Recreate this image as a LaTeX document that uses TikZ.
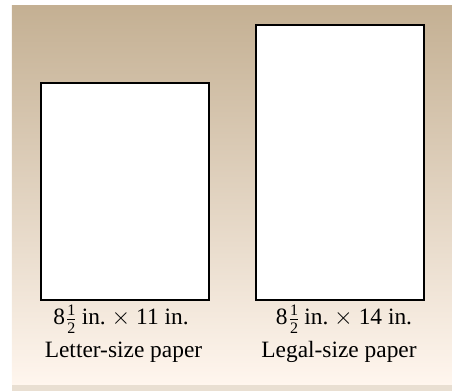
\documentclass[tikz,border=0pt]{standalone}
\usepackage{fontspec}
\setmainfont{Liberation Serif}
\usepackage{tikz}
\usetikzlibrary{positioning}
\definecolor{bgTop}{HTML}{C4B093}
\definecolor{bgBot}{HTML}{FFF6EE}
\definecolor{bgBand}{HTML}{E9DFD2}
\newcommand{\halfin}{8$\frac{\mbox{\fontsize{8}{8}\selectfont 1}}{\mbox{\fontsize{8}{8}\selectfont 2}}$\,in.}
\tikzset{
  % A sheet of paper, drawn to scale.
  sheet/.style={
    draw=black, fill=white, line width=0.9pt, inner sep=0pt,
    minimum width=84pt
  },
  % Size and name below each sheet.
  caption/.style={
    font=\fontsize{11.7}{13}\selectfont, text=black, inner sep=0pt, anchor=base
  },
}
\begin{document}
\begin{tikzpicture}[x=0.5pt,y=-0.5pt]
  \useasboundingbox (0,0) rectangle (452,391);
  \fill[top color=bgTop, bottom color=bgBot] (12,6) rectangle (452,385);
  \fill[bgBand] (12,385) rectangle (452,391);

  \node[sheet, minimum height=108.5pt] (letter) at (125,191.5) {};
  \node[sheet, minimum height=137.5pt] (legal)  at (340,162.4) {};

  \node[caption] (letterSize) at (121,325) {\halfin\ $\times$ 11 in.};
  \node[caption] (letterName) at (123.5,358) {Letter-size paper};
  \node[caption] (legalSize)  at (344,325) {\halfin\ $\times$ 14 in.};
  \node[caption] (legalName)  at (339,358) {Legal-size paper};
\end{tikzpicture}
\end{document}
